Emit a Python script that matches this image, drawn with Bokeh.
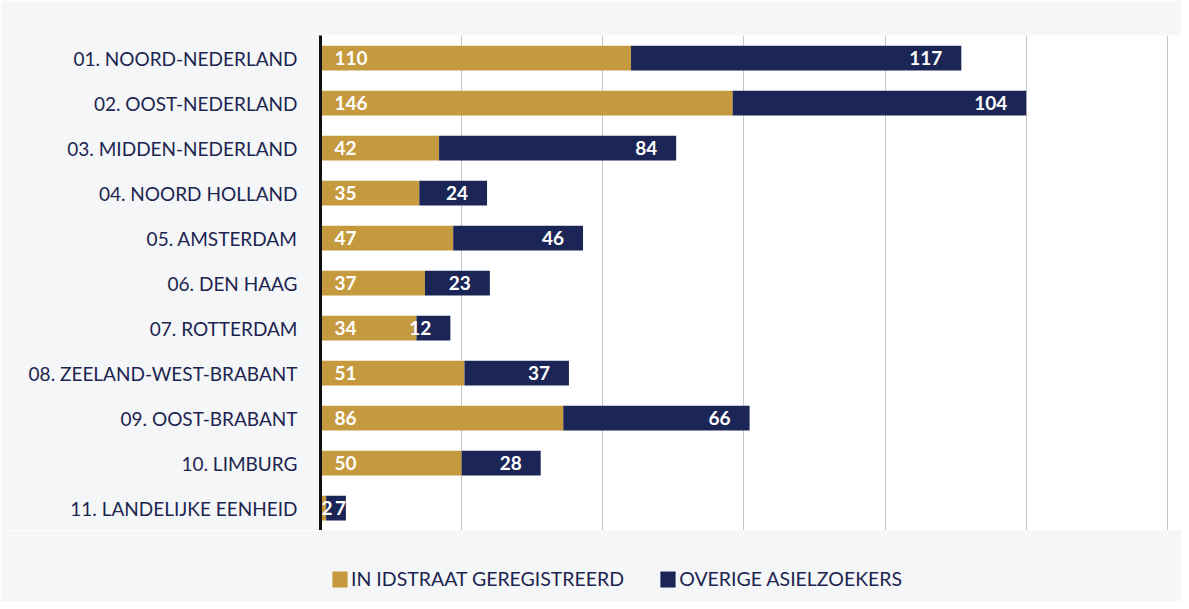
from bokeh.plotting import figure
from bokeh.layouts import column
from bokeh.models import ColumnDataSource, Legend, LegendItem, FixedTicker
from bokeh.core.properties import value
from bokeh.embed import file_html
from bokeh.resources import INLINE

regions = ["01. NOORD-NEDERLAND", "02. OOST-NEDERLAND", "03. MIDDEN-NEDERLAND",
           "04. NOORD HOLLAND", "05. AMSTERDAM", "06. DEN HAAG", "07. ROTTERDAM",
           "08. ZEELAND-WEST-BRABANT", "09. OOST-BRABANT", "10. LIMBURG",
           "11. LANDELIJKE EENHEID"]
registered = [110, 146, 42, 35, 47, 37, 34, 51, 86, 50, 2]
other = [117, 104, 84, 24, 46, 23, 12, 37, 66, 28, 7]
series_names = ["IN IDSTRAAT GEREGISTREERD", "OVERIGE ASIELZOEKERS"]
grid_ticks = [50, 100, 150, 200, 250, 300]

GOLD = "#c59a3e"
NAVY = "#1b2657"
TXT = "#1c2550"
FONT = "Lato"
BORDER = "#f5f6f7"

cats = list(reversed(regions))

src = ColumnDataSource(dict(
    region=regions,
    reg=registered,
    oth=other,
    reg_lbl=[str(v) for v in registered],
    oth_lbl=[str(v) for v in other],
    reg_x=[0 for v in registered],
    reg_align=["left" for v in registered],
    reg_off=[(1 if v < 10 else 14) for v in registered],
    oth_x=[r + o for r, o in zip(registered, other)],
    oth_align=["right" for o in other],
    oth_off=[(0 if o < 10 else -19) for o in other],
))

p = figure(width=1181, height=530, y_range=cats, x_range=(0, 305),
           output_backend="svg", toolbar_location=None,
           min_border_left=320, min_border_right=0, min_border_top=35,
           min_border_bottom=0)

p.background_fill_color = "#ffffff"
p.border_fill_color = BORDER
p.outline_line_color = None

r = p.hbar_stack(["reg", "oth"], y="region", height=0.55, color=[GOLD, NAVY],
                 line_color=None, source=src)

p.text(x="reg_x", y="region", text="reg_lbl", source=src, text_align="reg_align",
       x_offset="reg_off", text_baseline="middle", text_color="white",
       text_font=value(FONT), text_font_style="bold", text_font_size="19px")
p.text(x="oth_x", y="region", text="oth_lbl", source=src, text_align="oth_align",
       x_offset="oth_off", text_baseline="middle", text_color="white",
       text_font=value(FONT), text_font_style="bold", text_font_size="19px")

p.xaxis.visible = False
p.xgrid.ticker = FixedTicker(ticks=grid_ticks)
p.xgrid.grid_line_color = "#c4c4c4"
p.xgrid.grid_line_width = 1
p.ygrid.grid_line_color = None

yax = p.yaxis[0]
yax.axis_line_color = "#111111"
yax.axis_line_width = 3
yax.major_tick_line_color = None
yax.minor_tick_line_color = None
yax.major_label_standoff = 17
yax.major_label_text_font = FONT
yax.major_label_text_font_size = "19px"
yax.major_label_text_color = TXT

# legend strip below the chart (its frame is aligned with the chart frame)
lf = figure(width=1181, height=71, x_range=(0, 1), y_range=(0, 1),
            output_backend="svg", toolbar_location=None,
            min_border_left=0, min_border_right=0, min_border_top=0,
            min_border_bottom=0)
lf.axis.visible = False
lf.grid.visible = False
lf.outline_line_color = None
lf.background_fill_color = BORDER
lf.border_fill_color = BORDER
g1 = lf.hbar(y=[5], left=[5], right=[6], height=1, color=GOLD, line_color=None)
g2 = lf.hbar(y=[5], left=[5], right=[6], height=1, color=NAVY, line_color=None)

legend = Legend(items=[LegendItem(label=series_names[0], renderers=[g1]),
                       LegendItem(label=series_names[1], renderers=[g2])],
                orientation="horizontal", location=(10, 11))
legend.glyph_width = 19
legend.glyph_height = 20
legend.label_standoff = 2
legend.spacing = 34
legend.padding = 0
legend.margin = 0
legend.border_line_color = None
legend.background_fill_alpha = 0
legend.label_text_font = FONT
legend.label_text_font_size = "19.5px"
legend.label_text_color = TXT
lf.add_layout(legend, "center")

layout = column(p, lf, spacing=0)
open("out.html", "w").write(file_html(layout, INLINE))
